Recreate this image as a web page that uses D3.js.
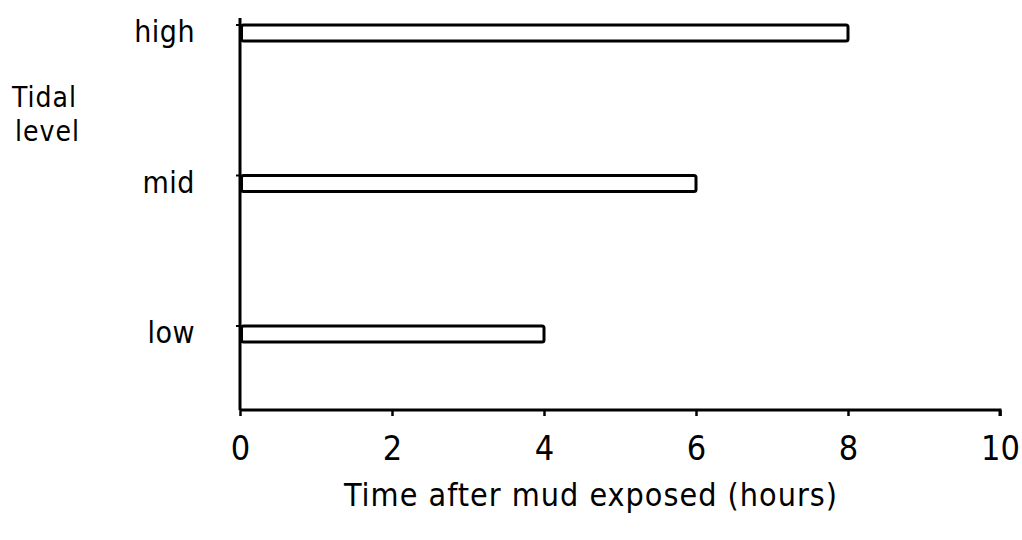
<!DOCTYPE html>
<html><head><meta charset="utf-8">
<script src="https://cdn.jsdelivr.net/npm/d3@7"></script>
<style>
body{margin:0;background:#fff;}
text{font-family:"DejaVu Sans Condensed","Liberation Sans Narrow",sans-serif;fill:#000;}
</style></head>
<body>
<svg id="c" width="1022" height="540"></svg>
<script>
const categories = ["high", "mid", "low"];
const values = [8, 6, 4];
const xTicks = [0, 2, 4, 6, 8, 10];
const xTitle = "Time after mud exposed (hours)";
const yTitle = ["Tidal", "level"];

const svg = d3.select("#c");
const x = d3.scaleLinear().domain([0, 10]).range([240, 1000]);
const y = d3.scalePoint().domain(categories).range([33, 334]);
const axisY = 410;
const barH = 16;

svg.append("line").attr("x1", 240).attr("x2", 240).attr("y1", 18).attr("y2", axisY)
  .attr("stroke", "#000").attr("stroke-width", 3);
const xAxis = d3.axisBottom(x).tickValues(xTicks).tickSize(6).tickFormat(d3.format("d"));
const gx = svg.append("g").attr("transform", `translate(0,${axisY})`).call(xAxis);
gx.select(".domain").attr("d", `M240,0H1000V6`).attr("stroke", "#000").attr("stroke-width", 3).attr("fill", "none");
gx.selectAll(".tick line").attr("stroke", "#000").attr("stroke-width", 2.5);
gx.selectAll(".tick text").attr("font-size", 34).attr("y", 50).attr("dy", 0)
  .attr("font-family", '"DejaVu Sans Condensed",sans-serif');

svg.selectAll("rect.bar").data(categories).enter().append("rect")
  .attr("class", "bar")
  .attr("x", x(0) + 1.5)
  .attr("y", d => y(d) - barH / 2)
  .attr("width", (d, i) => x(values[i]) - x(0) - 1.5)
  .attr("height", barH)
  .attr("rx", 2)
  .attr("fill", "#fff").attr("stroke", "#000").attr("stroke-width", 3);

svg.selectAll("line.yt").data(categories).enter().append("line")
  .attr("x1", 236).attr("x2", 240).attr("y1", d => y(d) - barH / 2).attr("y2", d => y(d) - barH / 2)
  .attr("stroke", "#000").attr("stroke-width", 2);

svg.selectAll("text.cat").data(categories).enter().append("text")
  .attr("x", 195).attr("y", d => y(d) + 9)
  .attr("text-anchor", "end").attr("font-size", 30).attr("letter-spacing", 0.5).text(d => d);

svg.selectAll("text.yt").data(yTitle).enter().append("text")
  .attr("x", (d, i) => 12 + i * 3).attr("y", (d, i) => 107 + i * 34)
  .attr("font-size", 28).attr("letter-spacing", 1).text(d => d);

svg.append("text").attr("x", 591).attr("y", 506).attr("text-anchor", "middle")
  .attr("font-size", 32).attr("letter-spacing", 1).text(xTitle);
</script>
</body></html>
